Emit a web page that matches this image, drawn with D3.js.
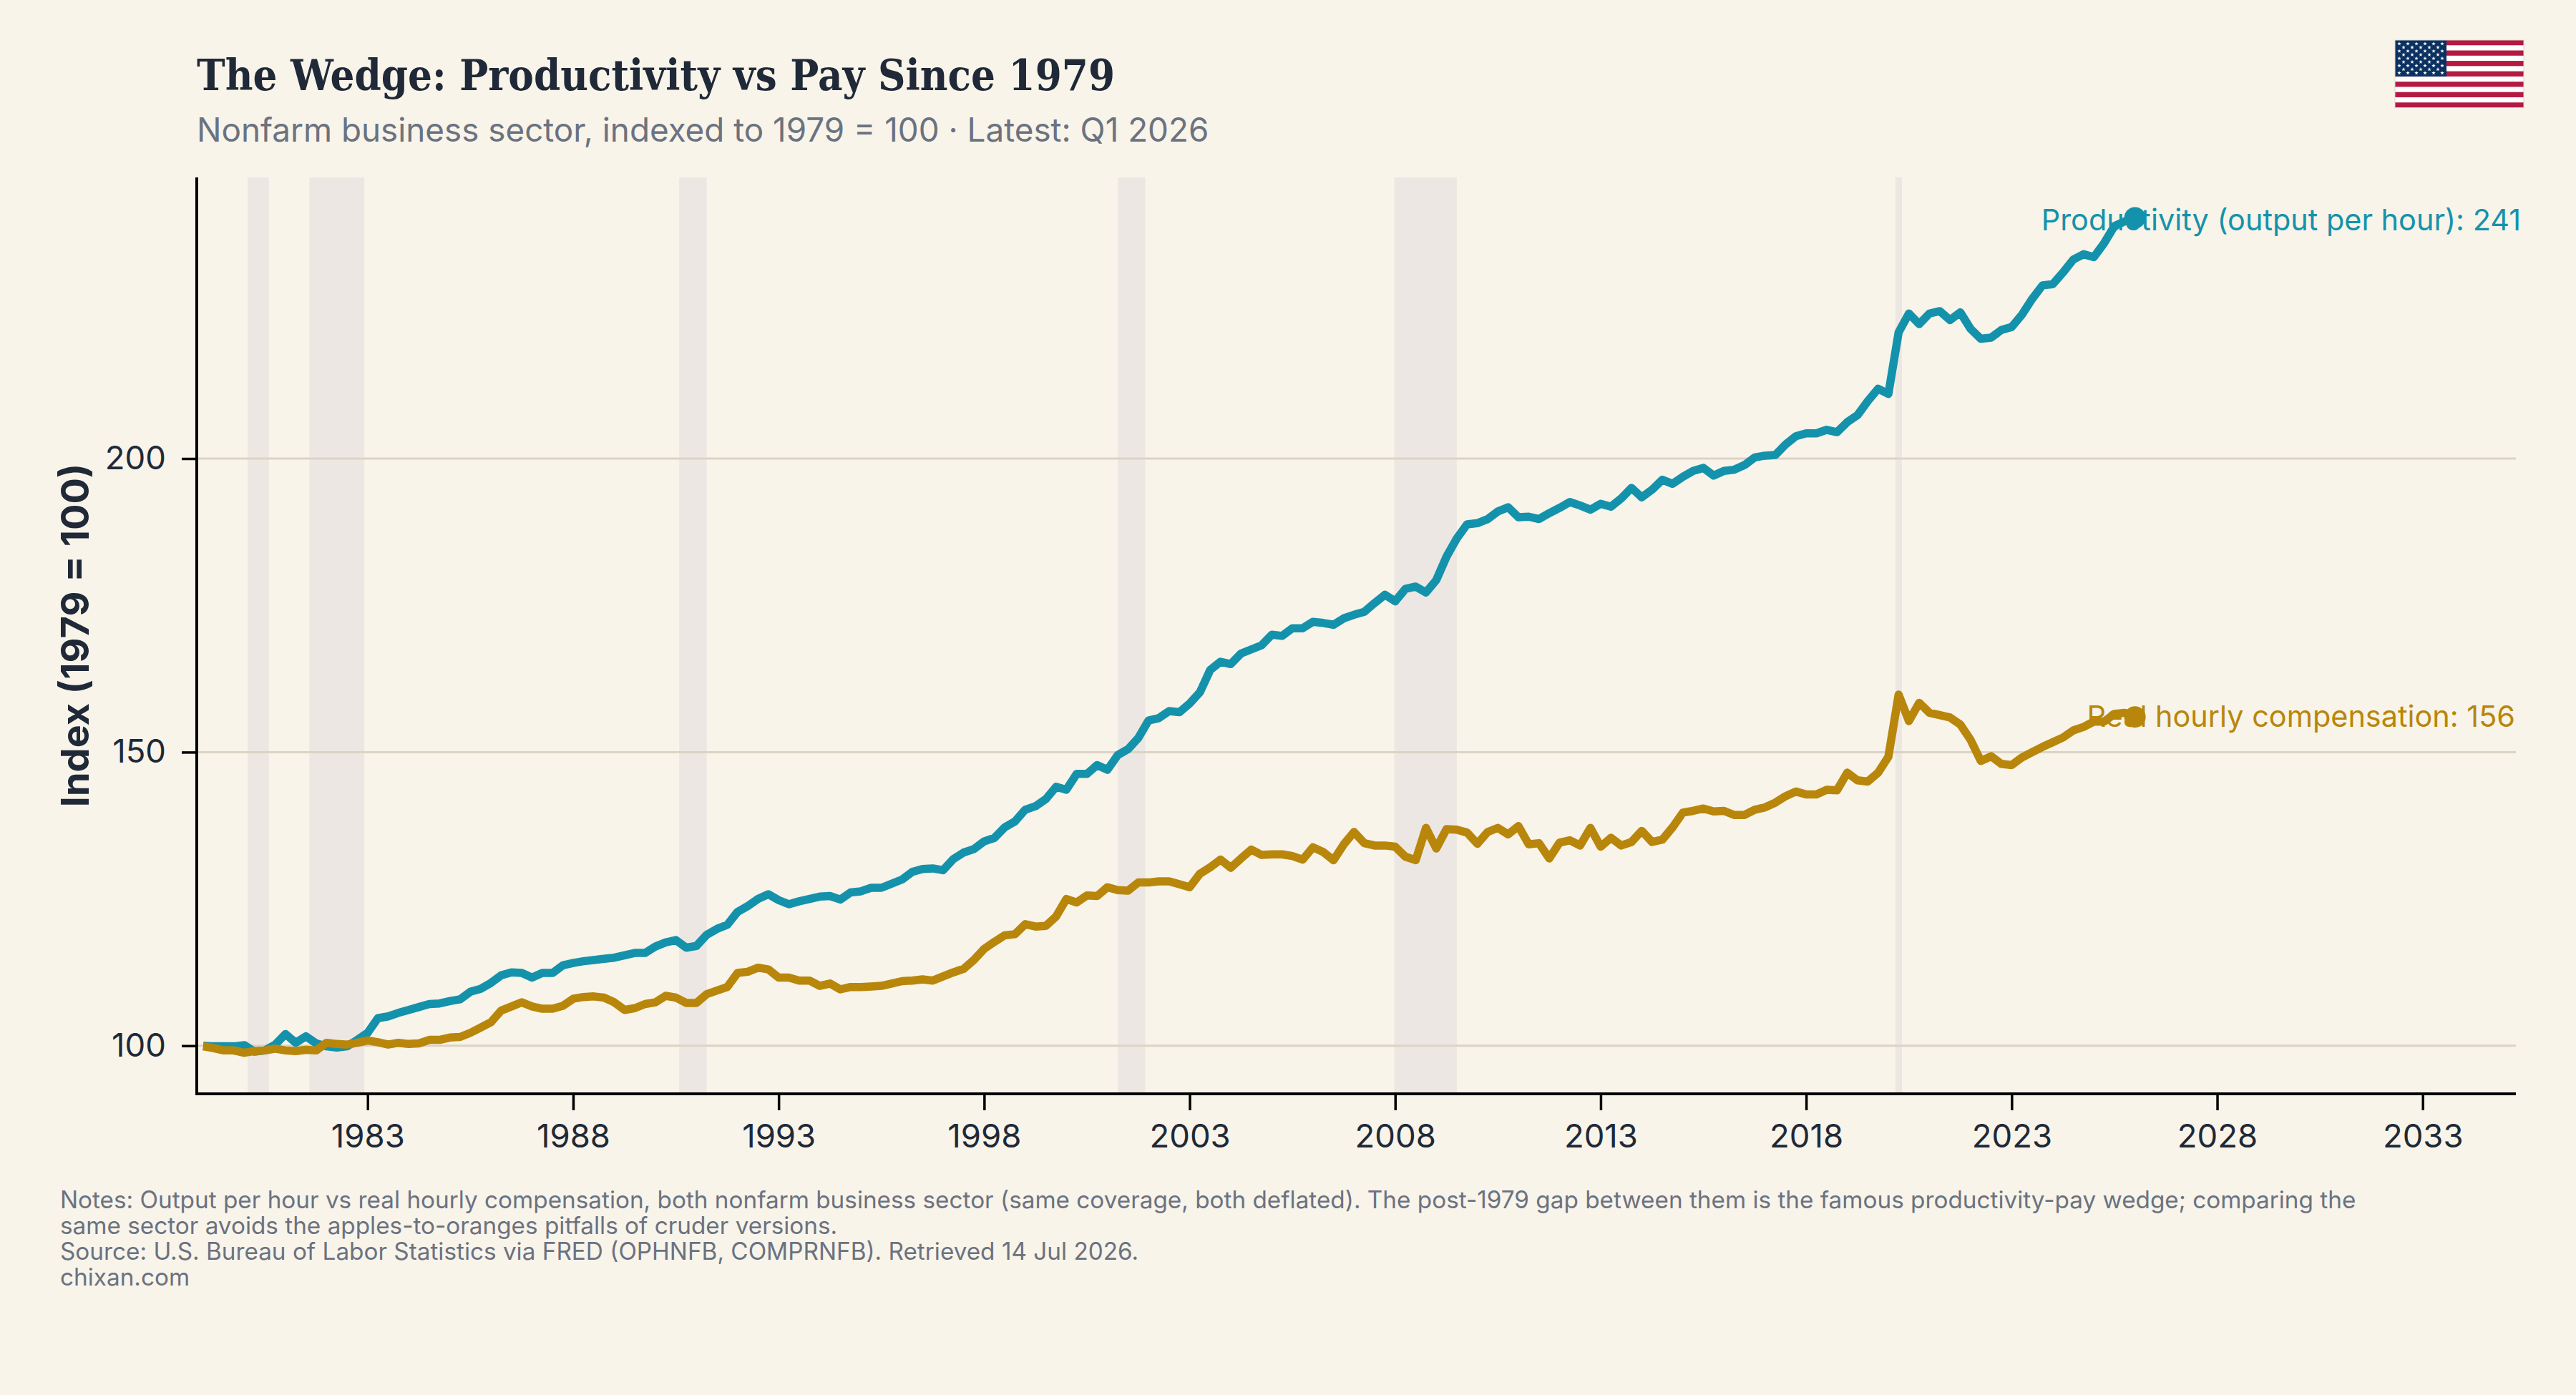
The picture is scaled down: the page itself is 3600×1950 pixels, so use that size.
<!DOCTYPE html>
<html>
<head>
<meta charset="utf-8">
<title>The Wedge: Productivity vs Pay Since 1979</title>
<script src="https://cdnjs.cloudflare.com/ajax/libs/d3/7.9.0/d3.min.js"></script>
<style>
  html, body { margin: 0; padding: 0; background: #f8f4ea; }
  svg { display: block; }
  text { font-family: Inter, "Noto Sans", sans-serif; }
</style>
</head>
<body>
<svg id="chart" width="3600" height="1950"></svg>
<script>
// Quarterly index values, 1979 Q1 to 2026 Q1 (1979 = 100)
const firstYear = 1979;
const productivity = [
  100,99.9,99.9,99.9,100.1,99.0,99.2,100.2,102.0,100.5,
  101.6,100.4,99.9,99.7,99.9,101.0,102.2,104.7,105.0,105.6,
  106.1,106.6,107.1,107.2,107.6,107.9,109.2,109.7,110.7,112,
  112.5,112.4,111.6,112.4,112.4,113.7,114.1,114.4,114.6,114.8,
  115,115.4,115.8,115.8,116.9,117.6,118,116.7,117,118.9,
  119.9,120.6,122.8,123.8,125,125.8,124.8,124.1,124.6,125,
  125.4,125.5,124.9,126.1,126.3,126.9,126.9,127.6,128.3,129.6,
  130.1,130.2,129.9,131.8,132.9,133.5,134.8,135.4,137.2,138.2,
  140.2,140.8,142,144.1,143.6,146.3,146.3,147.8,147,149.5,
  150.5,152.4,155.4,155.8,157,156.8,158.3,160.2,164,165.4,
  165,166.8,167.5,168.2,170,169.8,171.1,171.1,172.2,172,
  171.7,172.8,173.4,173.9,175.4,176.8,175.7,177.8,178.2,177.2,
  179.3,183.3,186.4,188.8,189,189.7,191,191.7,190,190.1,
  189.7,190.7,191.6,192.6,192,191.3,192.3,191.8,193.2,195,
  193.4,194.7,196.4,195.7,196.9,197.9,198.4,197.1,197.9,198.1,
  198.9,200.2,200.5,200.6,202.4,203.8,204.3,204.3,204.9,204.5,
  206.2,207.4,209.8,211.9,211,221.5,224.7,222.9,224.7,225.1,
  223.6,224.9,222.1,220.4,220.6,221.9,222.4,224.5,227.2,229.5,
  229.7,231.7,233.9,234.8,234.3,236.7,239.6,240.4,241
];
const compensation = [
  99.9,99.6,99.2,99.2,98.8,99.1,99.2,99.5,99.2,99.1,
  99.3,99.2,100.5,100.3,100.2,100.5,100.9,100.6,100.2,100.5,
  100.3,100.4,101,101,101.4,101.5,102.2,103.1,104,106,
  106.7,107.4,106.7,106.3,106.3,106.8,108,108.3,108.4,108.2,
  107.4,106.1,106.4,107.1,107.4,108.5,108.2,107.3,107.3,108.8,
  109.4,110,112.4,112.6,113.3,113,111.6,111.6,111.1,111.1,
  110.2,110.6,109.6,110,110,110.1,110.2,110.6,111,111.1,
  111.3,111.1,111.8,112.5,113.1,114.6,116.5,117.7,118.8,119,
  120.7,120.3,120.4,122,125,124.4,125.6,125.5,127,126.5,
  126.4,127.8,127.8,128,128,127.5,127,129.3,130.4,131.7,
  130.3,131.9,133.4,132.5,132.6,132.6,132.3,131.7,133.8,133,
  131.6,134.3,136.4,134.5,134.1,134.1,133.9,132.2,131.6,137.1,
  133.6,136.9,136.8,136.3,134.4,136.4,137.1,136,137.4,134.3,
  134.5,131.9,134.6,135,134.1,137.1,133.9,135.4,134.1,134.7,
  136.6,134.7,135.1,137.2,139.7,140,140.4,139.9,140,139.3,
  139.3,140.2,140.6,141.4,142.5,143.3,142.8,142.8,143.6,143.5,
  146.5,145.2,145,146.5,149.2,159.8,155.3,158.4,156.7,156.3,
  155.9,154.7,152.1,148.5,149.3,148,147.8,149.1,150,150.9,
  151.7,152.5,153.7,154.3,155.2,155.2,156.5,156.7,156
];
// NBER recessions as decimal years
const recessionStarts = [1980.08, 1981.58, 1990.58, 2001.25, 2007.98, 2020.17];
const recessionEnds   = [1980.60, 1982.92, 1991.25, 2001.92, 2009.50, 2020.33];
const xTickYears = [1983,1988,1993,1998,2003,2008,2013,2018,2023,2028,2033];
const yTickValues = [100,150,200];

const titleText = "The Wedge: Productivity vs Pay Since 1979";
const subtitleText = "Nonfarm business sector, indexed to 1979 = 100 \u00b7 Latest: Q1 2026";
const yAxisTitle = "Index (1979 = 100)";
const productivityLabel = "Productivity (output per hour): 241";
const compensationLabel = "Real hourly compensation: 156";
const noteLines = [
  "Notes: Output per hour vs real hourly compensation, both nonfarm business sector (same coverage, both deflated). The post-1979 gap between them is the famous productivity-pay wedge; comparing the",
  "same sector avoids the apples-to-oranges pitfalls of cruder versions.",
  "Source: U.S. Bureau of Labor Statistics via FRED (OPHNFB, COMPRNFB). Retrieved 14 Jul 2026.",
  "chixan.com"
];

const colors = {
  ink: "#1f2937", muted: "#6b7280", axis: "#000000", grid: "#dbd3c5",
  band: "rgba(120,95,150,0.08)", productivity: "#1592ab", compensation: "#b8860b"
};

const svg = d3.select("#chart");
const plot = { left: 275, right: 3516, top: 248, bottom: 1529 };

const x = d3.scaleLinear().domain([1978.843, 2035.268]).range([plot.left, plot.right]);
const y = d3.scaleLinear().domain([100, 200]).range([1461.8, 641]);
const yearOf = i => firstYear + i / 4;

svg.append("rect").attr("width", 3600).attr("height", 1950).attr("fill", "#f8f4ea");

// Recession shading
svg.append("g").selectAll("rect")
  .data(d3.zip(recessionStarts, recessionEnds))
  .join("rect")
  .attr("x", d => x(d[0]))
  .attr("width", d => x(d[1]) - x(d[0]))
  .attr("y", plot.top)
  .attr("height", plot.bottom - plot.top)
  .attr("fill", colors.band);

// Horizontal gridlines
svg.append("g").selectAll("line")
  .data(yTickValues)
  .join("line")
  .attr("x1", plot.left).attr("x2", plot.right)
  .attr("y1", d => y(d)).attr("y2", d => y(d))
  .attr("stroke", colors.grid).attr("stroke-width", 3);

// Axes
const yAxis = d3.axisLeft(y).tickValues(yTickValues).tickSize(21).tickPadding(22);
const xAxis = d3.axisBottom(x).tickValues(xTickYears).tickFormat(d3.format("d")).tickSize(23).tickPadding(20);

const gy = svg.append("g").attr("transform", `translate(${plot.left},0)`).call(yAxis);
gy.select(".domain").attr("d", `M0,${plot.top}V${plot.bottom + 2}`);
const gx = svg.append("g").attr("transform", `translate(0,${plot.bottom})`).call(xAxis);
gx.select(".domain").attr("d", `M${plot.left - 2},0H${plot.right}`);

svg.selectAll(".domain").attr("stroke", colors.axis).attr("stroke-width", 4).attr("fill", "none");
svg.selectAll(".tick line").attr("stroke", colors.axis).attr("stroke-width", 3.5);
svg.selectAll(".tick text").attr("fill", colors.ink).style("font-size", "45.5px").style("font-family", "Inter");

// Series lines and end markers
const line = d3.line().x((d, i) => x(yearOf(i))).y(d => y(d));
const series = [
  { values: productivity, color: colors.productivity, label: productivityLabel, labelRight: 3523, labelY: 322 },
  { values: compensation, color: colors.compensation, label: compensationLabel, labelRight: 3515, labelY: 1016 }
];

series.forEach(s => {
  svg.append("path")
    .attr("d", line(s.values))
    .attr("fill", "none")
    .attr("stroke", s.color)
    .attr("stroke-width", 11.5)
    .attr("stroke-linejoin", "round");
});

series.forEach(s => {
  const last = s.values.length - 1;
  svg.append("text")
    .attr("x", s.labelRight).attr("y", s.labelY)
    .attr("text-anchor", "end")
    .attr("fill", s.color)
    .style("font-size", "41.4px")
    .text(s.label);
  svg.append("circle")
    .attr("cx", x(yearOf(last))).attr("cy", y(s.values[last]))
    .attr("r", 15)
    .attr("fill", s.color);
});

// Headings
svg.append("text")
  .attr("x", 275).attr("y", 126)
  .attr("fill", colors.ink)
  .attr("textLength", 1283).attr("lengthAdjust", "spacingAndGlyphs")
  .style("font-family", '"DejaVu Serif", serif')
  .style("font-weight", 700)
  .style("font-size", "60px")
  .text(titleText);

svg.append("text")
  .attr("x", 275).attr("y", 198)
  .attr("fill", colors.muted)
  .style("font-size", "45.8px")
  .text(subtitleText);

svg.append("text")
  .attr("transform", "translate(124,888) rotate(-90)")
  .attr("text-anchor", "middle")
  .attr("fill", colors.ink)
  .style("font-size", "54px")
  .style("font-weight", 700)
  .text(yAxisTitle);

// Footnotes
svg.append("g").selectAll("text")
  .data(noteLines)
  .join("text")
  .attr("x", 84)
  .attr("y", (d, i) => 1689 + i * 36)
  .attr("fill", colors.muted)
  .style("font-size", "33.3px")
  .text(d => d);

// Flag in the top-right corner
const flag = { x: 3347, y: 56, w: 180, h: 94.5, stripes: 13, cantonW: 72 };
const stripeH = flag.h / flag.stripes;
const flagG = svg.append("g").attr("transform", `translate(${flag.x},${flag.y})`);
flagG.append("rect").attr("width", flag.w).attr("height", flag.h).attr("fill", "#ffffff");
flagG.selectAll("rect.stripe")
  .data(d3.range(0, flag.stripes, 2))
  .join("rect").attr("class", "stripe")
  .attr("y", d => d * stripeH)
  .attr("width", flag.w).attr("height", stripeH)
  .attr("fill", "#b31942");
flagG.append("rect").attr("width", flag.cantonW).attr("height", stripeH * 7).attr("fill", "#0a3161");
const starPath = d3.range(10).map(k => {
  const r = k % 2 ? 1.15 : 2.9;
  const a = -Math.PI / 2 + k * Math.PI / 5;
  return [r * Math.cos(a), r * Math.sin(a)];
});
const starRows = d3.range(9).flatMap(row =>
  d3.range(row % 2 ? 5 : 6).map(col => [(row % 2 ? 12 : 6) + col * 12, 5.2 + row * 5.1])
);
flagG.selectAll("path.star")
  .data(starRows)
  .join("path").attr("class", "star")
  .attr("transform", d => `translate(${d[0]},${d[1]})`)
  .attr("d", d3.line()(starPath) + "Z")
  .attr("fill", "#ffffff");
flagG.append("rect").attr("width", flag.w).attr("height", flag.h)
  .attr("fill", "none").attr("stroke", "#ddd6cc").attr("stroke-width", 1);
</script>
</body>
</html>
